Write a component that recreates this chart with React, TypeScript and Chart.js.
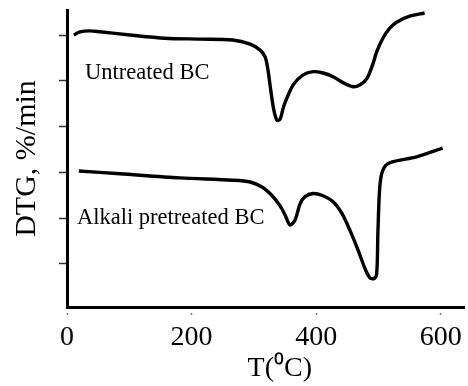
import React, { useEffect, useRef } from "react";
import { Chart, registerables } from "chart.js";

Chart.register(...registerables);

// Temperature (°C) and DTG (arbitrary units, one unit per y tick)
const UNTREATED_T = [11, 21, 37, 53, 101, 157, 213, 266, 294, 310, 318, 322.5, 327, 332, 337, 342, 348, 363, 379, 395, 411, 427, 443, 459, 470, 481, 491, 497, 507, 518, 529, 550, 574];
const UNTREATED_DTG = [6.0, 6.07, 6.09, 6.07, 6.0, 5.93, 5.91, 5.89, 5.8, 5.67, 5.52, 5.24, 4.8, 4.36, 4.14, 4.16, 4.45, 4.91, 5.13, 5.2, 5.17, 5.09, 4.96, 4.87, 4.91, 5.04, 5.37, 5.63, 5.93, 6.15, 6.28, 6.41, 6.48];

const ALKALI_T = [19, 85, 181, 266, 294, 313, 330, 342, 350, 358, 366, 374, 382, 395, 409, 427, 441, 454, 467, 478, 486, 492.5, 497, 499, 502, 507, 518, 561, 603];
const ALKALI_DTG = [3.03, 2.97, 2.88, 2.83, 2.79, 2.68, 2.48, 2.27, 2.07, 1.85, 1.96, 2.31, 2.47, 2.54, 2.5, 2.36, 2.11, 1.74, 1.31, 0.91, 0.7, 0.68, 0.78, 1.68, 2.68, 3.05, 3.21, 3.34, 3.53];

const X_TICKS = [0, 200, 400, 600];
const Y_TICKS = [1, 2, 3, 4, 5, 6];

const LABELS = ["Untreated BC", "Alkali pretreated BC"];
const LABEL_T = [29, 16];
const LABEL_DTG = [5.17, 2.0];

const SERIF = "'Liberation Serif', 'Times New Roman', serif";

export default function App() {
  const ref = useRef<HTMLCanvasElement | null>(null);

  useEffect(() => {
    if (!ref.current) return;
    const labelPlugin = {
      id: "curveLabels",
      afterDatasetsDraw(chart: any) {
        const { ctx, scales } = chart;
        ctx.save();
        ctx.font = `22.5px ${SERIF}`;
        ctx.fillStyle = "#000";
        ctx.textAlign = "left";
        ctx.textBaseline = "middle";
        LABELS.forEach((t, i) => {
          ctx.fillText(t, scales.x.getPixelForValue(LABEL_T[i]), scales.y.getPixelForValue(LABEL_DTG[i]));
        });
        ctx.restore();
      },
    };
    const chart = new Chart(ref.current, {
      type: "line",
      data: {
        datasets: [
          {
            label: LABELS[0],
            data: UNTREATED_T.map((x, i) => ({ x, y: UNTREATED_DTG[i] })),
            borderColor: "#000",
            borderWidth: 3.4,
            pointRadius: 0,
            tension: 0.3,
          },
          {
            label: LABELS[1],
            data: ALKALI_T.map((x, i) => ({ x, y: ALKALI_DTG[i] })),
            borderColor: "#000",
            borderWidth: 3.4,
            pointRadius: 0,
            tension: 0.3,
          },
        ],
      },
      options: {
        animation: false,
        responsive: false,
        layout: { padding: { top: 10, right: 3, left: 0, bottom: 0 } },
        plugins: { legend: { display: false }, tooltip: { enabled: false } },
        scales: {
          x: {
            type: "linear",
            min: 0,
            max: 638,
            afterBuildTicks: (s: any) => {
              s.ticks = X_TICKS.map((value) => ({ value }));
            },
            afterFit: (s: any) => {
              s.height = 79;
            },
            border: { display: true, color: "#000", width: 3 },
            grid: {
              drawOnChartArea: false,
              drawTicks: true,
              tickLength: 8,
              tickColor: "#777",
              tickWidth: 1.5,
              tickBorderDash: [0, 4, 4, 100],
            },
            ticks: {
              color: "#000",
              padding: 6,
              font: { family: SERIF, size: 28 },
            },
            title: {
              display: true,
              text: "    T(\u2070C)",
              color: "#000",
              font: { family: SERIF, size: 28 },
              padding: { top: 0, bottom: 1 },
            },
          },
          y: {
            type: "linear",
            min: 0.061,
            max: 6.546,
            afterBuildTicks: (s: any) => {
              s.ticks = Y_TICKS.map((value) => ({ value }));
            },
            afterFit: (s: any) => {
              s.width = 67;
            },
            border: { display: true, color: "#000", width: 3 },
            grid: {
              drawOnChartArea: false,
              drawTicks: true,
              tickLength: 14,
              tickColor: "#333",
              tickWidth: 1.5,
              tickBorderDash: [0, 6, 7, 100],
            },
            ticks: { display: false },
            title: {
              display: true,
              text: "DTG, %/min",
              color: "#000",
              font: { family: SERIF, size: 30 },
              padding: { top: 9, bottom: 0 },
            },
          },
        },
      },
      plugins: [labelPlugin],
    } as any);
    return () => chart.destroy();
  }, []);

  return (
    <div style={{ position: "fixed", left: 0, top: 0, width: 468, height: 386, background: "#fff" }}>
      <canvas ref={ref} width={468} height={386} />
    </div>
  );
}
